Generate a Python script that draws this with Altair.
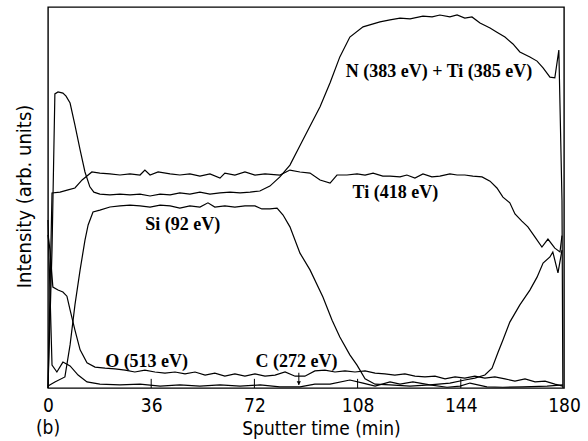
import altair as alt
import pandas as pd

# ---- data (time in min, intensity in arb. units 0-100) ----
NTI_T = [0, 1.4, 2.4, 3.5, 5.2, 6.3, 7.7, 9.4, 11.2, 12.9, 14.6, 16.0, 18.1, 21.6, 25.1, 28.6, 32.1, 35.6, 39.1, 42.6,
         46.0, 49.5, 53.0, 56.5, 60.0, 63.5, 67.0, 70.5, 73.9, 77.4, 80.9, 84.4, 88.9, 94.9, 98.4, 101.8, 105.3, 109.9,
         115.8, 119.3, 122.8, 126.3, 130.8, 134.0, 136.7, 140.2, 142.7, 145.4, 147.9, 150.7, 154.2, 156.6, 159.4, 162.2,
         164.6, 168.1, 170.6, 172.7, 175.1, 176.8, 178.2, 179.3, 179.6]
NTI_V = [0, 36.2, 77.2, 77.7, 77.4, 76.6, 74.8, 69.0, 62.5, 56.7, 52.8, 51.4, 50.9, 50.7, 50.9, 50.7, 50.9, 50.4, 50.9, 50.7,
         51.2, 50.9, 51.4, 50.9, 51.2, 51.4, 51.2, 51.4, 51.7, 53.0, 55.4, 58.5, 65.1, 73.8, 80.1, 86.9, 92.1, 94.8,
         96.1, 96.6, 97.1, 96.9, 97.6, 97.4, 97.9, 97.4, 97.9, 97.1, 97.4, 95.8, 94.5, 93.4, 92.1, 90.3,
         88.2, 86.9, 85.8, 84.0, 81.6, 81.4, 88.7, 49.3, 0]

TI_T = [0, 1.4, 4.2, 7.0, 9.4, 11.9, 15.3, 18.1, 21.6, 25.1, 28.6, 32.1, 33.8, 35.6, 38.4, 42.6, 46.0, 49.5, 53.0, 56.5,
        60.0, 61.7, 65.2, 68.7, 72.2, 75.7, 80.9, 84.4, 87.9, 91.4, 94.9, 98.4, 100.8, 104.3, 107.8, 110.6, 113.4, 116.8,
        119.3, 122.8, 125.2, 128.0, 130.8, 133.9, 136.7, 140.2, 142.7, 145.4, 148.2, 151.4, 154.2, 156.6, 158.7, 161.1,
        162.9, 165.3, 167.4, 169.9, 172.3, 174.4, 176.8, 178.6, 179.3]
TI_V = [0, 51.2, 51.4, 52.0, 52.5, 54.6, 56.7, 56.4, 56.2, 55.9, 56.2, 55.9, 57.2, 55.9, 56.7, 56.2, 55.9, 56.2, 55.6, 56.2,
        55.1, 56.4, 55.9, 56.7, 55.9, 56.2, 55.9, 57.2, 56.7, 56.4, 54.6, 53.8, 55.9, 55.9, 56.2, 55.9, 56.4, 55.6,
        55.6, 55.4, 55.9, 55.1, 56.2, 55.4, 55.6, 56.2, 55.9, 55.9, 55.6, 55.4, 54.3, 52.5, 50.1, 48.6,
        45.7, 43.8, 42.3, 39.6, 37.0, 39.1, 36.7, 35.7, 40.0]

SI_T = [0, 2.4, 5.9, 7.7, 9.4, 11.2, 12.9, 14.0, 15.7, 18.1, 21.6, 25.1, 28.6, 32.1, 35.6, 39.1, 42.6, 46.0, 49.5, 53.0,
        55.8, 58.2, 61.7, 65.2, 68.7, 72.2, 74.6, 77.4, 79.9, 82.0, 84.4, 87.9, 91.4, 95.9, 99.1, 101.8, 105.3, 107.8,
        110.6, 114.1, 119.3, 126.3, 133.2, 140.2, 145.4, 148.9, 152.4, 154.9, 157.0, 158.7, 161.1, 164.6, 168.1, 170.6,
        172.7, 175.1, 176.1, 177.9, 179.3]
SI_V = [0.5, 1.6, 2.9, 11.3, 21.8, 31.0, 38.8, 42.8, 46.2, 46.7, 47.5, 47.8, 48.0, 47.8, 47.5, 48.0, 47.8, 47.2, 47.8, 47.5,
        48.6, 47.5, 47.8, 47.5, 47.8, 47.8, 47.0, 47.0, 47.2, 45.4, 42.3, 35.4, 31.0, 23.9, 17.8, 13.4, 8.7, 6.0,
        2.4, 1.0, 0.8, 0.5, 0.8, 1.3, 2.1, 2.6, 3.4, 5.2, 9.4, 12.6, 17.3, 21.8, 25.7, 29.1,
        32.8, 34.4, 35.7, 30.2, 36.2]

O_T = [0, 0.7, 1.7, 3.5, 5.2, 6.6, 7.7, 9.4, 11.2, 13.6, 16.4, 19.9, 23.4, 26.9, 30.3, 33.8, 37.3, 40.8, 44.3, 47.8,
       51.3, 54.8, 58.2, 61.7, 65.2, 68.7, 72.2, 75.7, 79.2, 82.7, 86.2, 89.6, 93.1, 96.6, 100.1, 103.6, 107.1, 110.6,
       114.1, 117.5, 121.0, 124.5, 128.0, 131.5, 135.0, 138.5, 142.0, 145.4, 148.9, 152.4, 155.9, 159.4, 162.9, 166.4,
       169.9, 173.4, 176.8, 179.6]
O_V = [40.2, 36.2, 26.5, 25.7, 25.2, 24.1, 20.5, 15.2, 10.0, 6.6, 5.5, 5.2, 5.0, 4.7, 4.2, 4.7, 4.2, 3.9, 4.2, 3.7,
       4.2, 3.4, 3.9, 3.1, 3.7, 3.1, 3.7, 3.1, 3.4, 4.2, 3.1, 3.1, 4.5, 4.7, 4.2, 4.5, 4.2, 4.5,
       3.9, 3.7, 3.4, 3.7, 3.1, 2.9, 3.1, 2.4, 2.9, 2.6, 3.1, 2.6, 2.9, 2.4, 1.8, 2.4,
       1.6, 1.8, 1.0, 0.5]

C_T = [0, 1.4, 3.1, 5.2, 7.7, 10.5, 13.6, 18.1, 25.1, 32.1, 39.1, 46.0, 53.0, 60.0, 67.0, 74.0, 80.9, 87.9, 93.1, 98.4,
       105.3, 109.9, 114.1, 119.3, 122.8, 127.3, 133.2, 139.2, 143.7, 147.2, 153.1, 158.7, 165.7, 174.1, 179.6]
C_V = [44.1, 6.0, 4.2, 6.8, 5.8, 3.4, 1.6, 1.0, 0.8, 1.0, 0.5, 0.8, 0.5, 0.8, 0.5, 0.8, 0.3, 0.3, 1.0, 1.0,
       2.1, 1.3, 0.5, 1.6, 1.0, 1.6, 0.8, 0.2, 0.5, 1.3, 0.3, 0.2, 0.3, 0.5, 0.8]

X_TICKS = [0, 36, 72, 108, 144, 180]
INNER_TICKS = [36, 72, 108, 144]

LABEL_TEXT = ["N (383 eV) + Ti (385 eV)", "Ti (418 eV)", "Si (92 eV)", "O (513 eV)", "C (272 eV)"]
LABEL_T = [136.4, 121.2, 47.0, 34.4, 86.7]
LABEL_V = [82.9, 51.2, 42.8, 6.8, 6.8]

ARROW_T = [87.5]

# ---- build tables ----
series = {
    "N+Ti": (NTI_T, NTI_V),
    "Ti418": (TI_T, TI_V),
    "Si": (SI_T, SI_V),
    "O": (O_T, O_V),
    "C": (C_T, C_V),
}
rows = []
for name, (ts, vs) in series.items():
    for i, (t, v) in enumerate(zip(ts, vs)):
        rows.append({"series": name, "t": t, "v": v, "i": i})
df = pd.DataFrame(rows)

labels_df = pd.DataFrame({"text": LABEL_TEXT, "t": LABEL_T, "v": LABEL_V})
ticks_df = pd.DataFrame({"t": INNER_TICKS})
arrow_df = pd.DataFrame({"t": ARROW_T})

SANS = "DejaVu Sans Condensed, DejaVu Sans"
xs = alt.Scale(domain=[0, 180], nice=False, zero=False)
ys = alt.Scale(domain=[0, 100], nice=False, zero=False)

lines = alt.Chart(df).mark_line(color="black", strokeWidth=1.2).encode(
    x=alt.X("t:Q", scale=xs, axis=alt.Axis(
        values=X_TICKS, title="Sputter time (min)", grid=False, domain=False, ticks=False,
        labelFont=SANS, labelFontSize=19, labelColor="black", labelPadding=17, labelBaseline="middle",
        labelFlush=False, titleFont=SANS, titleFontSize=19, titleFontWeight="normal", titleColor="black",
        titleX=273, titleY=40, titleBaseline="middle", titleAlign="center")),
    y=alt.Y("v:Q", scale=ys, axis=alt.Axis(
        title="Intensity (arb. units)", labels=False, ticks=False, grid=False, domain=False,
        titleFont=SANS, titleFontSize=20, titleFontWeight="normal", titleColor="black",
        titleX=-24, titleY=189, titleAngle=270, titleBaseline="middle", titleAlign="center")),
    detail="series:N",
    order="i:Q",
)

inner_ticks = alt.Chart(ticks_df).mark_rule(color="black", strokeWidth=1).encode(
    x="t:Q", y=alt.datum(0), y2=alt.datum(2.4))

texts = alt.Chart(labels_df).mark_text(
    font="Liberation Serif", fontWeight="bold", fontSize=18, color="black",
    align="center", baseline="middle").encode(x="t:Q", y="v:Q", text="text:N")

panel = alt.Chart(pd.DataFrame({"text": ["(b)"], "t": [0.0], "v": [-10.5]})).mark_text(
    font=SANS, fontSize=19, color="black", align="center", baseline="middle").encode(
    x="t:Q", y="v:Q", text="text:N")

arrow_line = alt.Chart(arrow_df).mark_rule(color="black", strokeWidth=1).encode(
    x="t:Q", y=alt.datum(4.0), y2=alt.datum(0.8))
arrow_head = alt.Chart(arrow_df).mark_point(
    shape="triangle-down", filled=True, color="black", size=18, opacity=1).encode(
    x="t:Q", y=alt.datum(1.3))

chart = alt.layer(lines, inner_ticks, texts, panel, arrow_line, arrow_head).properties(
    width=516, height=381,
    autosize=alt.AutoSizeParams(type="none"),
    padding={"left": 48, "top": 7, "right": 24, "bottom": 53},
    background="white",
).configure_view(stroke="black", strokeWidth=1.4)

chart.save("out.html", embed_options={"renderer": "svg", "actions": False})
